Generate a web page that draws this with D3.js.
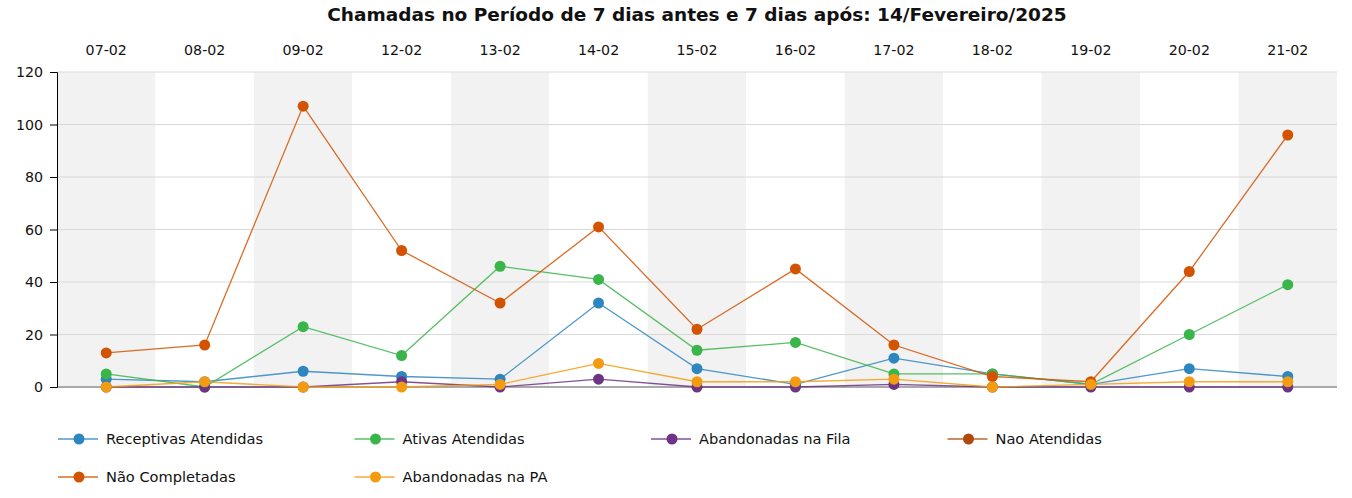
<!DOCTYPE html>
<html><head><meta charset="utf-8">
<script src="https://cdn.jsdelivr.net/npm/d3@7"></script>
<style>body{margin:0;background:#fff;} svg{display:block;font-family:"DejaVu Sans",Verdana,sans-serif;}</style>
</head><body>
<svg id="c" width="1352" height="498"></svg>
<script>
const categories = ["07-02","08-02","09-02","12-02","13-02","14-02","15-02","16-02","17-02","18-02","19-02","20-02","21-02"];
const receptivasAtendidas = [3,2,6,4,3,32,7,1,11,5,1,7,4];
const ativasAtendidas = [5,0,23,12,46,41,14,17,5,5,1,20,39];
const abandonadasFila = [0,0,0,2,0,3,0,0,1,0,0,0,0];
const naoAtendidas = [];
const naoCompletadas = [13,16,107,52,32,61,22,45,16,4,2,44,96];
const abandonadasPA = [0,2,0,0,1,9,2,2,3,0,1,2,2];
const yTicks = [0,20,40,60,80,100,120];
const title = "Chamadas no Período de 7 dias antes e 7 dias após: 14/Fevereiro/2025";

const series = [
  {name:"Receptivas Atendidas", values:receptivasAtendidas, color:"#2e86c1"},
  {name:"Ativas Atendidas", values:ativasAtendidas, color:"#3ab54a"},
  {name:"Abandonadas na Fila", values:abandonadasFila, color:"#6c3483"},
  {name:"Nao Atendidas", values:naoAtendidas, color:"#b04a0c"},
  {name:"Não Completadas", values:naoCompletadas, color:"#d35400"},
  {name:"Abandonadas na PA", values:abandonadasPA, color:"#f39c12"}
];

const svg = d3.select("#c");
const m = {left:57, right:1337, top:72, bottom:387};
const x = d3.scaleBand().domain(categories).range([m.left, m.right]).padding(0);
const y = d3.scaleLinear().domain([0,120]).range([m.bottom, m.top]);

svg.append("text").attr("x",697).attr("y",21).attr("text-anchor","middle")
  .attr("font-size","18.5px").attr("font-weight","bold").attr("fill","#111").text(title);

// bands
svg.append("g").selectAll("rect").data(categories).join("rect")
  .attr("x",d=>x(d)).attr("y",m.top).attr("width",x.bandwidth()).attr("height",m.bottom-m.top)
  .attr("fill",(d,i)=> i%2===0 ? "#f2f2f2" : "#ffffff");

// gridlines
svg.append("g").selectAll("line").data(yTicks.filter(t=>t>0)).join("line")
  .attr("x1",m.left).attr("x2",m.right).attr("y1",d=>y(d)).attr("y2",d=>y(d))
  .attr("stroke","#d9d9d9").attr("stroke-width",1);

// top axis labels
const xa = svg.append("g").attr("transform",`translate(0,${m.top})`)
  .call(d3.axisTop(x).tickSize(0).tickPadding(17));
xa.select(".domain").remove();
xa.selectAll("text").attr("font-size","14.2px").attr("fill","#111").attr("font-family","DejaVu Sans, sans-serif");

// bottom baseline
svg.append("line").attr("x1",m.left).attr("x2",m.right).attr("y1",y(0)).attr("y2",y(0))
  .attr("stroke","#aaaaaa").attr("stroke-width",2);

// y axis
const ya = svg.append("g").attr("transform",`translate(${m.left},0)`)
  .call(d3.axisLeft(y).tickValues(yTicks).tickSize(7).tickPadding(7));
ya.select(".domain").attr("stroke","#000");
ya.selectAll("text").attr("font-size","14.2px").attr("fill","#111").attr("font-family","DejaVu Sans, sans-serif");

const line = d3.line().x((d,i)=>x(categories[i])+x.bandwidth()/2).y(d=>y(d));
series.forEach(s=>{
  if(!s.values.length) return;
  const g = svg.append("g");
  g.append("path").attr("d",line(s.values)).attr("fill","none").attr("stroke",s.color)
    .attr("stroke-width",1.3).attr("stroke-opacity",0.85);
  g.selectAll("circle").data(s.values).join("circle")
    .attr("cx",(d,i)=>x(categories[i])+x.bandwidth()/2).attr("cy",d=>y(d)).attr("r",5.5)
    .attr("fill",s.color);
});

// legend
const lg = svg.append("g");
series.forEach((s,i)=>{
  const col = i%4, row = Math.floor(i/4);
  const lx = 58 + col*296.5, ly = 439 + row*38;
  const g = lg.append("g").attr("transform",`translate(${lx},${ly})`);
  g.append("line").attr("x1",0).attr("x2",40).attr("y1",0).attr("y2",0).attr("stroke",s.color).attr("stroke-width",1.5).attr("stroke-opacity",0.85);
  g.append("circle").attr("cx",21).attr("cy",0).attr("r",5.5).attr("fill",s.color);
  g.append("text").attr("x",48).attr("y",5).attr("font-size","14.6px").attr("fill","#111").text(s.name);
});
</script>
</body></html>
